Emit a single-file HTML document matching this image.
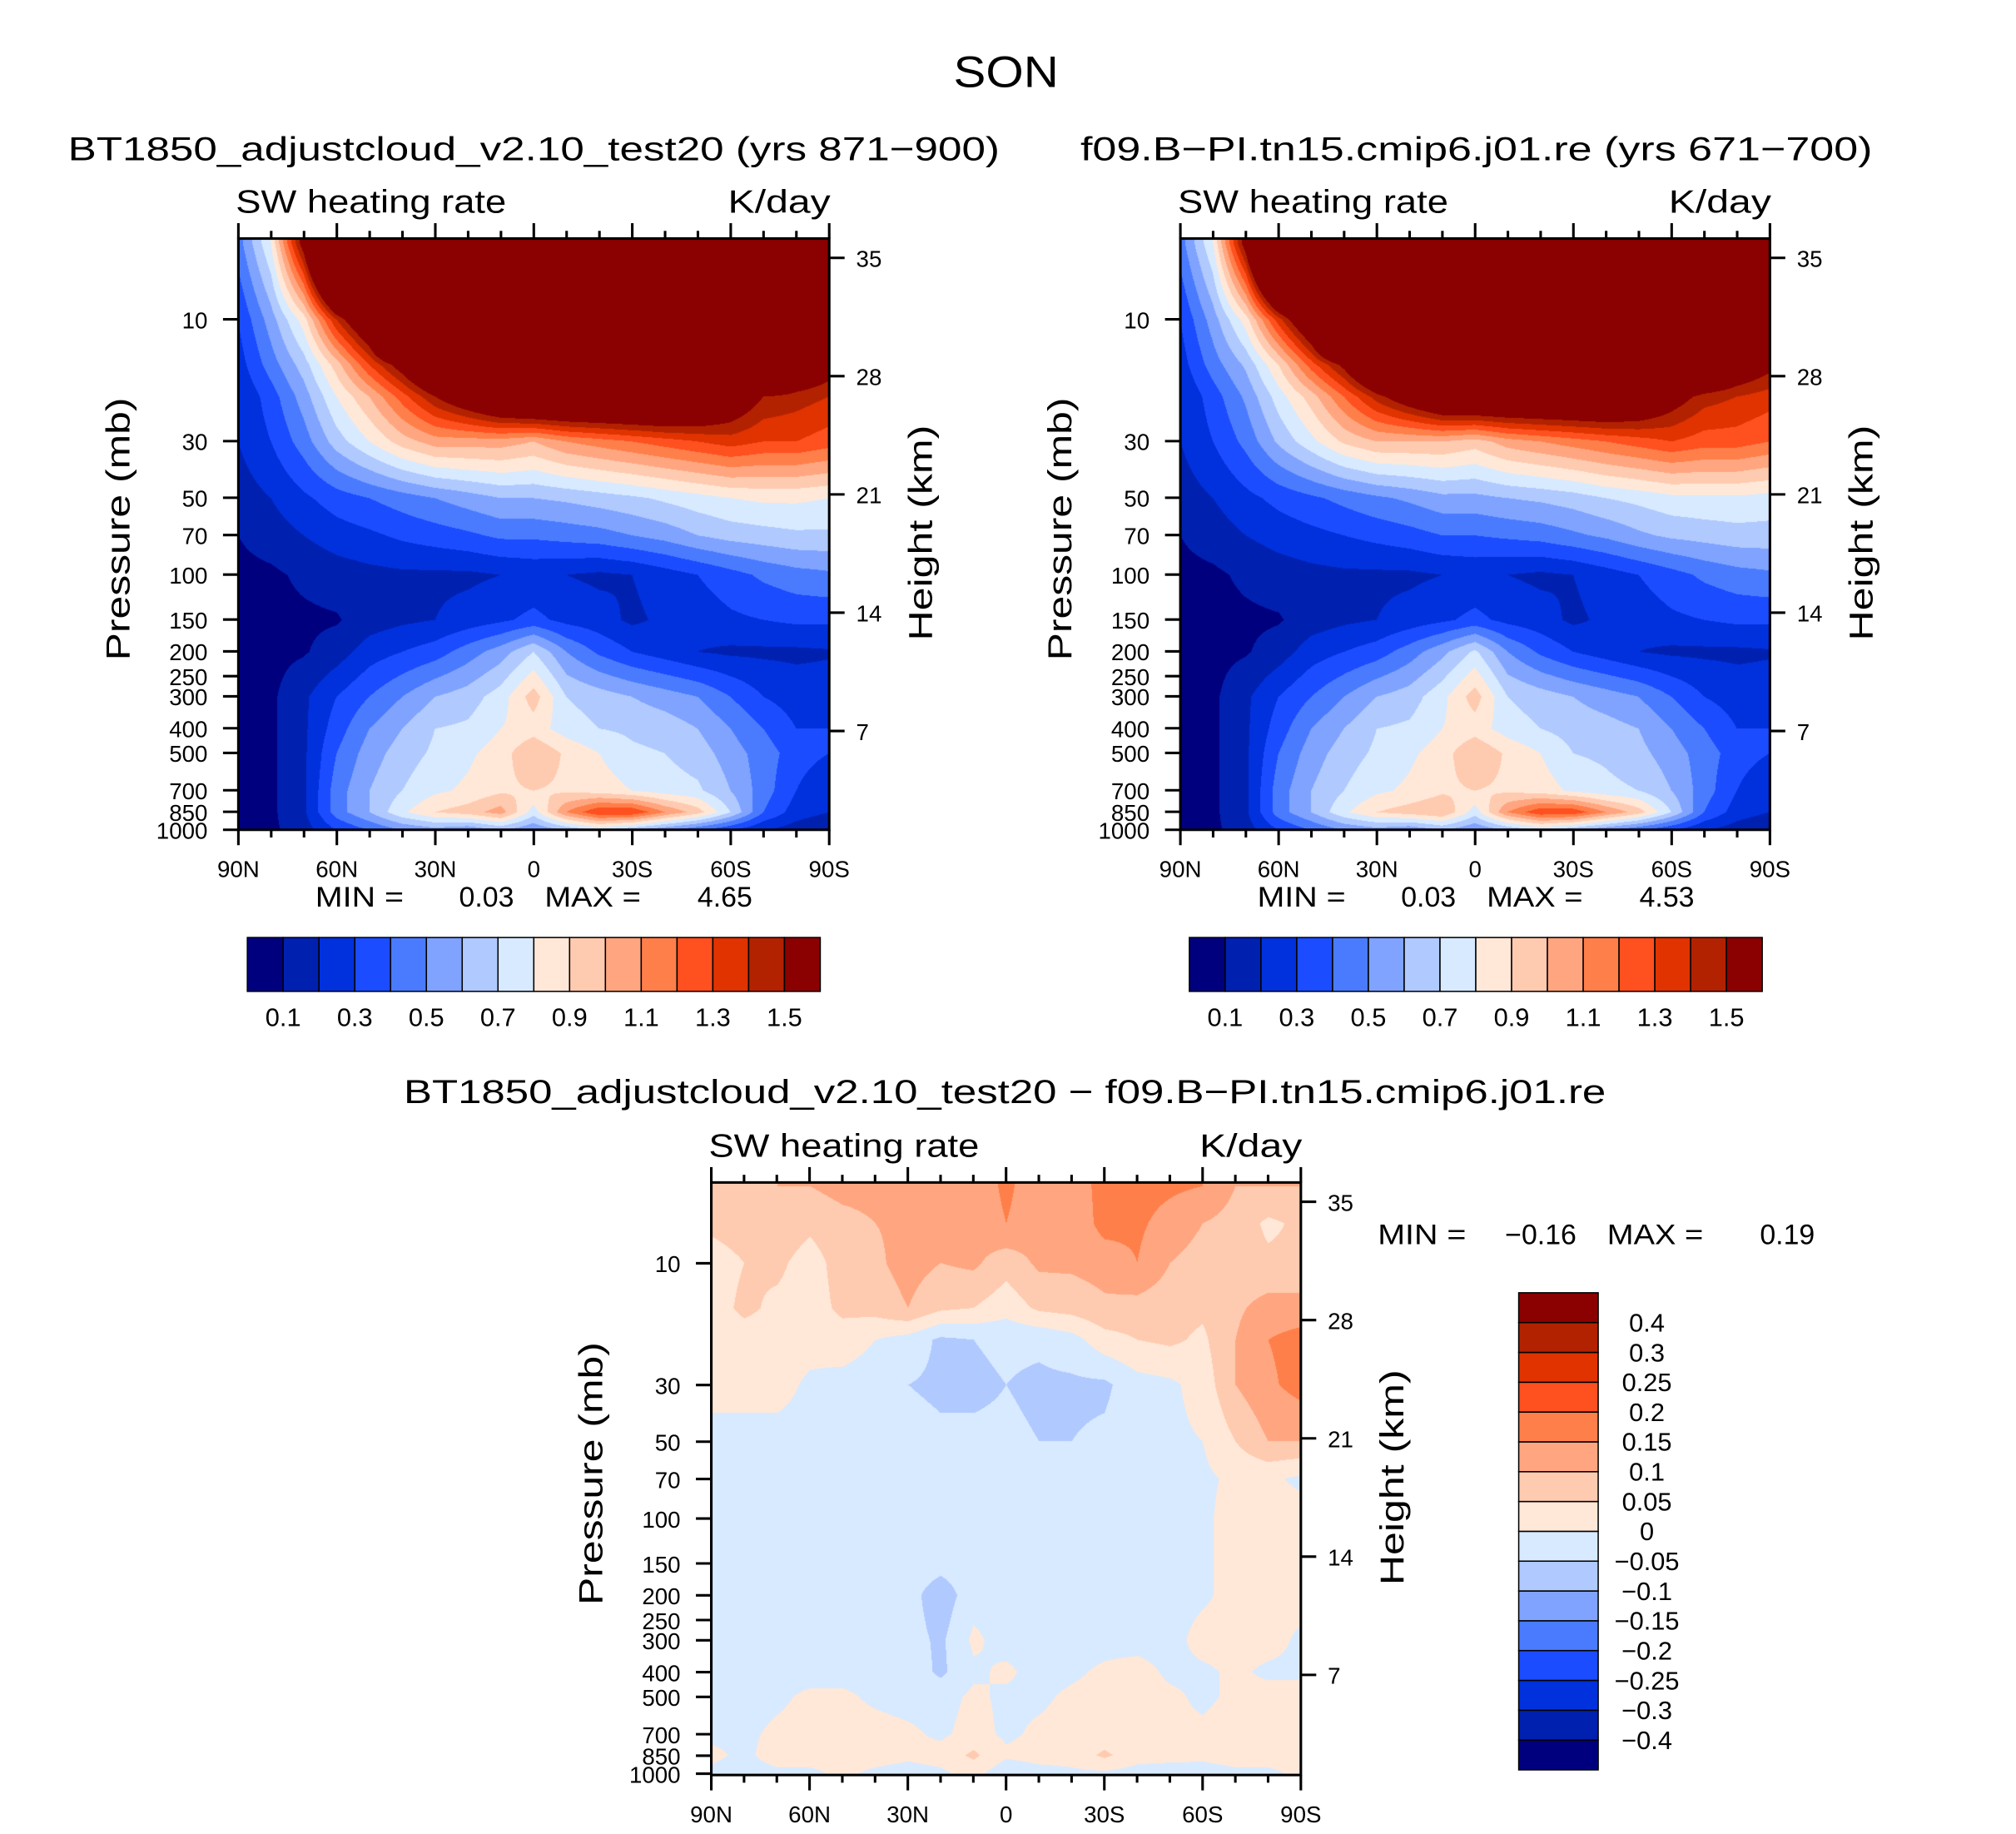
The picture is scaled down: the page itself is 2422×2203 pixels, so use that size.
<!DOCTYPE html>
<html><head><meta charset="utf-8"><style>
html,body{margin:0;padding:0;background:#fff;}
#wrap{position:relative;width:2422px;height:2203px;overflow:hidden;background:#fff;}
canvas{position:absolute;}
#ov{position:absolute;left:0;top:0;width:2422px;height:2203px;}
text{font-family:"Liberation Sans",sans-serif;fill:#000;}
</style></head><body>
<div id="wrap">
<canvas id="cA"></canvas>
<canvas id="cB"></canvas>
<canvas id="cC"></canvas>
<svg id="ov" viewBox="0 0 1573 1430" preserveAspectRatio="none">
<text x="744" y="68" font-size="34" textLength="82" lengthAdjust="spacingAndGlyphs">SON</text>
<text x="53" y="125" font-size="26" textLength="727" lengthAdjust="spacingAndGlyphs">BT1850_adjustcloud_v2.10_test20 (yrs 871−900)</text>
<text x="843" y="125" font-size="26" textLength="618" lengthAdjust="spacingAndGlyphs">f09.B−PI.tn15.cmip6.j01.re (yrs 671−700)</text>
<text x="315" y="860" font-size="26" textLength="938" lengthAdjust="spacingAndGlyphs">BT1850_adjustcloud_v2.10_test20 − f09.B−PI.tn15.cmip6.j01.re</text>
<g id="g"></g>
</svg>
</div>
<script>
// ---- data ----
const lats = [90,80,70,60,50,40,30,20,10,0,-10,-20,-30,-40,-50,-60,-70,-80,-90];
const presAB = [5,10,15,20,30,50,70,100,150,200,300,400,500,700,850,1000];
const fieldA = [
[0.45,0.8,1.6,3,3,3,3,3,3,3,3,3,3,3,3,3,3,3,3],
[0.3,0.55,0.85,1.4,1.8,3,3,3,3,3,3,3,3,3,3,3,3,3,3],
[0.25,0.45,0.65,0.95,1.3,1.6,2,3,3,3,3,3,3,3,3,3,2.5,1.8,1.6],
[0.2,0.35,0.55,0.8,1.0,1.25,1.5,1.7,1.9,2,2,2,2,2,1.9,1.7,1.5,1.45,1.4],
[0.2,0.3,0.45,0.65,0.8,0.95,1.05,1.05,1.05,1.0,1.1,1.15,1.2,1.25,1.3,1.35,1.3,1.3,1.25],
[0.15,0.2,0.28,0.35,0.4,0.45,0.5,0.55,0.6,0.6,0.62,0.65,0.68,0.72,0.76,0.8,0.82,0.82,0.8],
[0.1,0.15,0.2,0.25,0.28,0.32,0.35,0.38,0.42,0.42,0.44,0.46,0.5,0.54,0.6,0.64,0.66,0.68,0.68],
[0.07,0.08,0.12,0.15,0.17,0.18,0.18,0.18,0.2,0.22,0.2,0.18,0.2,0.25,0.3,0.36,0.42,0.46,0.48],
[0.06,0.07,0.08,0.09,0.15,0.18,0.2,0.24,0.28,0.33,0.27,0.24,0.18,0.22,0.24,0.28,0.3,0.32,0.32],
[0.06,0.07,0.09,0.15,0.25,0.3,0.35,0.45,0.55,0.7,0.5,0.38,0.3,0.25,0.2,0.18,0.18,0.18,0.19],
[0.06,0.08,0.18,0.3,0.4,0.5,0.6,0.65,0.75,0.95,0.7,0.65,0.6,0.55,0.5,0.4,0.3,0.25,0.25],
[0.06,0.08,0.18,0.35,0.5,0.6,0.7,0.72,0.8,0.85,0.75,0.7,0.68,0.66,0.6,0.5,0.4,0.3,0.3],
[0.06,0.08,0.18,0.4,0.55,0.65,0.72,0.78,0.85,1.0,0.88,0.8,0.72,0.7,0.65,0.55,0.45,0.35,0.3],
[0.06,0.08,0.18,0.45,0.6,0.7,0.78,0.82,0.88,0.9,0.88,0.85,0.8,0.75,0.72,0.6,0.45,0.3,0.2],
[0.06,0.08,0.18,0.45,0.6,0.78,0.9,0.95,1.05,0.75,1.1,1.3,1.3,1.1,0.95,0.7,0.4,0.25,0.2],
[0.06,0.08,0.15,0.3,0.4,0.5,0.55,0.5,0.6,0.5,0.6,0.7,0.6,0.5,0.4,0.3,0.2,0.15,0.1]];
const fieldB = [
[0.45,0.8,1.6,3,3,3,3,3,3,3,3,3,3,3,3,3,3,3,3],
[0.3,0.55,0.85,1.35,1.8,3,3,3,3,3,3,3,3,3,3,3,3,3,2.5],
[0.25,0.45,0.62,0.9,1.25,1.55,2,3,3,3,3,3,3,3,3,2.5,2,1.7,1.55],
[0.2,0.35,0.52,0.75,0.95,1.2,1.45,1.65,1.85,1.9,1.9,1.9,1.9,1.9,1.8,1.6,1.45,1.4,1.35],
[0.2,0.3,0.43,0.62,0.77,0.92,1.0,1.0,1.0,0.95,1.05,1.1,1.15,1.2,1.25,1.3,1.25,1.25,1.2],
[0.15,0.2,0.27,0.33,0.38,0.43,0.48,0.52,0.57,0.57,0.6,0.62,0.65,0.7,0.73,0.77,0.78,0.78,0.76],
[0.1,0.15,0.2,0.24,0.27,0.3,0.33,0.36,0.4,0.4,0.42,0.44,0.48,0.52,0.58,0.62,0.64,0.66,0.66],
[0.07,0.08,0.12,0.15,0.17,0.18,0.18,0.18,0.2,0.22,0.2,0.18,0.2,0.25,0.3,0.36,0.42,0.46,0.48],
[0.06,0.07,0.08,0.09,0.15,0.18,0.2,0.24,0.28,0.33,0.27,0.24,0.18,0.22,0.24,0.28,0.3,0.32,0.32],
[0.06,0.07,0.09,0.15,0.25,0.3,0.35,0.45,0.57,0.72,0.5,0.38,0.3,0.25,0.2,0.18,0.18,0.18,0.19],
[0.06,0.08,0.18,0.3,0.4,0.5,0.6,0.65,0.77,0.95,0.7,0.65,0.6,0.55,0.5,0.4,0.3,0.25,0.25],
[0.06,0.08,0.18,0.35,0.5,0.6,0.7,0.72,0.8,0.85,0.75,0.7,0.66,0.64,0.6,0.5,0.4,0.3,0.3],
[0.06,0.08,0.18,0.4,0.55,0.65,0.72,0.78,0.85,1.0,0.88,0.8,0.7,0.68,0.63,0.55,0.45,0.35,0.3],
[0.06,0.08,0.18,0.45,0.6,0.7,0.78,0.82,0.88,0.9,0.88,0.85,0.78,0.73,0.7,0.6,0.45,0.3,0.2],
[0.06,0.08,0.18,0.45,0.6,0.78,0.9,0.95,1.0,0.75,1.1,1.28,1.28,1.1,0.95,0.7,0.4,0.25,0.2],
[0.06,0.08,0.15,0.3,0.4,0.5,0.55,0.5,0.6,0.5,0.6,0.7,0.6,0.5,0.4,0.3,0.2,0.15,0.1]];
const presC = [5,7,10,15,20,30,50,70,100,150,200,300,400,500,700,850,1000];
const fieldC = [
[0.07,0.08,0.1,0.1,0.12,0.12,0.12,0.12,0.12,0.16,0.12,0.12,0.17,0.17,0.16,0.15,0.1,0.1,0.1],
[0.06,0.07,0.08,0.06,0.08,0.1,0.11,0.1,0.12,0.15,0.12,0.11,0.17,0.16,0.13,0.1,0.08,0.04,0.06],
[0.03,0.05,0.06,0.03,0.07,0.09,0.12,0.1,0.11,0.07,0.11,0.11,0.12,0.15,0.1,0.08,0.07,0.06,0.06],
[0.03,0.06,0.04,0.03,0.06,0.07,0.1,0.06,0.05,0.02,0.06,0.07,0.09,0.08,0.07,0.06,0.09,0.12,0.12],
[0.02,0.03,0.03,0.02,0.03,0.0,-0.02,-0.06,-0.05,-0.04,-0.04,-0.02,0.03,0.05,0.06,0.04,0.1,0.15,0.17],
[0.01,0.02,0.02,-0.01,-0.02,-0.03,-0.05,-0.06,-0.06,-0.05,-0.06,-0.06,-0.06,-0.02,-0.01,0.02,0.1,0.14,0.17],
[-0.01,-0.02,-0.02,-0.02,-0.02,-0.02,-0.03,-0.04,-0.04,-0.04,-0.05,-0.05,-0.04,-0.02,-0.01,0.0,0.05,0.1,0.1],
[-0.02,-0.02,-0.02,-0.02,-0.02,-0.02,-0.02,-0.02,-0.02,-0.02,-0.02,-0.02,-0.02,-0.02,-0.02,-0.01,0.01,0.01,-0.01],
[-0.02,-0.02,-0.02,-0.02,-0.02,-0.02,-0.02,-0.02,-0.02,-0.02,-0.02,-0.02,-0.02,-0.02,-0.02,-0.01,0.02,0.02,0.02],
[-0.02,-0.02,-0.02,-0.02,-0.02,-0.02,-0.02,-0.03,-0.02,-0.02,-0.02,-0.02,-0.02,-0.02,-0.01,-0.01,0.02,0.02,0.02],
[-0.02,-0.02,-0.02,-0.02,-0.02,-0.02,-0.03,-0.08,-0.02,-0.02,-0.02,-0.02,-0.02,-0.02,-0.02,-0.01,0.02,0.02,0.02],
[-0.02,-0.02,-0.02,-0.02,-0.02,-0.02,-0.03,-0.06,0.01,-0.02,-0.02,-0.02,-0.02,-0.02,-0.02,0.02,0.02,0.02,-0.01],
[-0.02,-0.02,-0.02,-0.02,-0.02,-0.02,-0.02,-0.06,-0.01,0.01,-0.02,-0.01,0.01,0.02,-0.01,-0.01,0.01,-0.01,-0.01],
[-0.02,-0.02,-0.01,0.01,0.01,-0.01,-0.02,-0.02,0.01,-0.01,-0.01,0.01,0.02,0.02,0.01,-0.01,0.01,0.02,0.02],
[-0.01,-0.01,0.01,0.02,0.02,0.02,0.01,-0.01,0.02,-0.01,0.01,0.02,0.02,0.02,0.01,0.01,0.02,0.02,0.02],
[0.01,-0.01,0.02,0.02,0.02,0.02,0.01,0.02,0.06,0.01,0.02,0.02,0.06,0.02,0.02,0.01,0.02,0.02,0.02],
[-0.01,-0.02,-0.01,-0.01,0.01,-0.01,-0.02,-0.01,0.02,-0.04,-0.02,-0.01,-0.01,-0.02,-0.03,-0.02,-0.01,-0.01,0.01]];
const levelsAB = [0.1,0.2,0.3,0.4,0.5,0.6,0.7,0.8,0.9,1.0,1.1,1.2,1.3,1.4,1.5];
const labelsAB = ['0.1','0.3','0.5','0.7','0.9','1.1','1.3','1.5'];
const levelsC = [-0.4,-0.3,-0.25,-0.2,-0.15,-0.1,-0.05,0,0.05,0.1,0.15,0.2,0.25,0.3,0.4];
const labelsC = ['−0.4','−0.3','−0.25','−0.2','−0.15','−0.1','−0.05','0','0.05','0.1','0.15','0.2','0.25','0.3','0.4'];
const palette = ['#00007f','#0020b0','#0031dd','#1b4cff','#4a7bff','#7fa3ff','#b0c9ff','#d8eaff','#ffe8d8','#ffcbb0','#ffa680','#ff7f4a','#ff5020','#e03300','#b32200','#8b0000'];
const pTicks = [10,30,50,70,100,150,200,250,300,400,500,700,850,1000];
const zTicks = [35,28,21,14,7];
const xTickLabels = ['90N','60N','30N','0','30S','60S','90S'];

// ---- helpers ----
const SX = 2422/1573, SY = 2203/1430;
const NS = 'http://www.w3.org/2000/svg';
const G = document.getElementById('g');
function el(tag, attrs, parent){const e=document.createElementNS(NS,tag);for(const k in attrs)e.setAttribute(k,attrs[k]);(parent||G).appendChild(e);return e;}
function txt(x,y,s,size,anchor,parent,len){const a={x:x,y:y,'font-size':size,'text-anchor':anchor||'start'};if(len){a.textLength=len;a.lengthAdjust='spacingAndGlyphs';}const t=el('text',a,parent);t.textContent=s;return t;}
function rgb(h){return [parseInt(h.substr(1,2),16),parseInt(h.substr(3,2),16),parseInt(h.substr(5,2),16)];}
const palRGB = palette.map(rgb);
function colorIndex(v, levels){let i=0;while(i<levels.length&&v>=levels[i])i++;return i;}

function drawPanel(canvasId, P, pres, field, levels){
  const c=document.getElementById(canvasId);
  const W=Math.round((P.x1-P.x0)*SX), H=Math.round((P.y1-P.y0)*SY);
  c.width=W;c.height=H;
  c.style.left=(P.x0*SX)+'px';c.style.top=(P.y0*SY)+'px';
  c.style.width=W+'px';c.style.height=H+'px';
  const ctx=c.getContext('2d');const img=ctx.createImageData(W,H);
  const lp=pres.map(p=>Math.log10(p));
  for(let j=0;j<H;j++){
    const yov=P.y0+(j+0.5)/SY;
    let l=1+(yov-P.y10)/199;
    let k=0;while(k<lp.length-2&&l>lp[k+1])k++;
    let fy=(l-lp[k])/(lp[k+1]-lp[k]);fy=Math.max(0,Math.min(1,fy));
    const r0=field[k], r1=field[k+1];
    for(let i=0;i<W;i++){
      const ci=((i+0.5)/W)*(lats.length-1);
      const a=Math.min(lats.length-2,Math.floor(ci));const fx=ci-a;
      const v=(r0[a]*(1-fx)+r0[a+1]*fx)*(1-fy)+(r1[a]*(1-fx)+r1[a+1]*fx)*fy;
      const col=palRGB[colorIndex(v,levels)];
      const o=(j*W+i)*4;img.data[o]=col[0];img.data[o+1]=col[1];img.data[o+2]=col[2];img.data[o+3]=255;
    }
  }
  ctx.putImageData(img,0,0);
}

function drawAxes(P, name){
  const g=el('g',{});
  
  
  const yOfP=p=>P.y10+199*Math.log10(p/10);
  const yOfZ=z=>yOfP(410*Math.exp(-(z-7)/6.56));
  const xOfLat=lat=>P.x0+(90-lat)/180*(P.x1-P.x0);
  el('rect',{x:P.x0,y:P.y0,width:P.x1-P.x0,height:P.y1-P.y0,fill:'none',stroke:'#000','stroke-width':2},g);
  for(let lat=90;lat>=-90;lat-=10){
    const x=xOfLat(lat);const major=lat%30===0;const L=major?12:6;
    el('line',{x1:x,y1:P.y0,x2:x,y2:P.y0-L,stroke:'#000','stroke-width':2},g);
    el('line',{x1:x,y1:P.y1,x2:x,y2:P.y1+L,stroke:'#000','stroke-width':2},g);
  }
  xTickLabels.forEach((s,i)=>{const t=txt(xOfLat(90-30*i),P.y1+37,s,18,'middle',g);
    
    });
  pTicks.forEach(p=>{const y=yOfP(p);
    el('line',{x1:P.x0,y1:y,x2:P.x0-12,y2:y,stroke:'#000','stroke-width':2},g);
    const t=txt(P.x0-24,y+7,String(p),18,'end',g);
    
    });
  zTicks.forEach(z=>{const y=yOfZ(z);
    el('line',{x1:P.x1,y1:y,x2:P.x1+12,y2:y,stroke:'#000','stroke-width':2},g);
    const t=txt(P.x1+21,y+7,String(z),18,'start',g);
    
    });
  const cy=(P.y0+P.y1)/2;
  const yl=txt(0,0,'Pressure  (mb)',26,'middle',g,205);
  yl.setAttribute('transform','translate('+(P.x0-85)+','+(cy-4)+') rotate(-90)');
  
  
  const yr=txt(0,0,'Height  (km)',26,'middle',g,168);
  yr.setAttribute('transform','translate('+(P.x1+80)+','+(cy-1)+') rotate(-90)');
  
  
  const s1=txt(P.x0-2,P.y0-20,'SW heating rate',25,'start',g,211);
  
  
  const s2=txt(P.x1+1,P.y0-20,'K/day',25,'end',g,80);
  
  
}

function minmax(x,y,minS,maxS,name){
  const g=el('g',{});
  
  
  txt(x,y,'MIN  =',22,'start',g,69);txt(x+155,y,minS,22,'end',g);
  txt(x+179,y,'MAX  =',22,'start',g,75);txt(x+341,y,maxS,22,'end',g);
}

function hbar(x0,x1,y0,y1,name){
  const g=el('g',{});
  
  
  const n=palette.length, w=(x1-x0)/n;
  palette.forEach((c,i)=>{const r=el('rect',{x:x0+i*w,y:y0,width:w,height:y1-y0,fill:c,stroke:'#000','stroke-width':1},g);
    
    });
  labelsAB.forEach((s,i)=>{txt(x0+(2*i+1)*w,y1+27,s,20,'middle',g);});
}

function vbar(x0,x1,y0,y1,name){
  const g=el('g',{});
  
  
  const n=palette.length, h=(y1-y0)/n;
  palette.forEach((c,i)=>{const r=el('rect',{x:x0,y:y1-(i+1)*h,width:x1-x0,height:h,fill:c,stroke:'#000','stroke-width':1},g);
    
    });
  labelsC.forEach((s,i)=>{txt(x1+38,y1-(i+1)*h+7,s,20,'middle',g);});
}

const PA={x0:186,x1:647,y0:186,y1:647,y10:249};
const PB={x0:921,x1:1381,y0:186,y1:647,y10:249};
const PC={x0:555,x1:1015,y0:922,y1:1384,y10:985};
drawPanel('cA',PA,presAB,fieldA,levelsAB);
drawPanel('cB',PB,presAB,fieldB,levelsAB);
drawPanel('cC',PC,presC,fieldC,levelsC);
drawAxes(PA,'panel1');drawAxes(PB,'panel2');drawAxes(PC,'panel3');
minmax(246,707,'0.03','4.65','panel1-min-max');
minmax(981,707,'0.03','4.53','panel2-min-max');
minmax(1075,970,'−0.16','0.19','panel3-min-max');
hbar(193,640,731,773,'panel1-colorbar');
hbar(928,1375,731,773,'panel2-colorbar');
vbar(1185,1247,1008,1380,'panel3-colorbar');
</script>
</body></html>
